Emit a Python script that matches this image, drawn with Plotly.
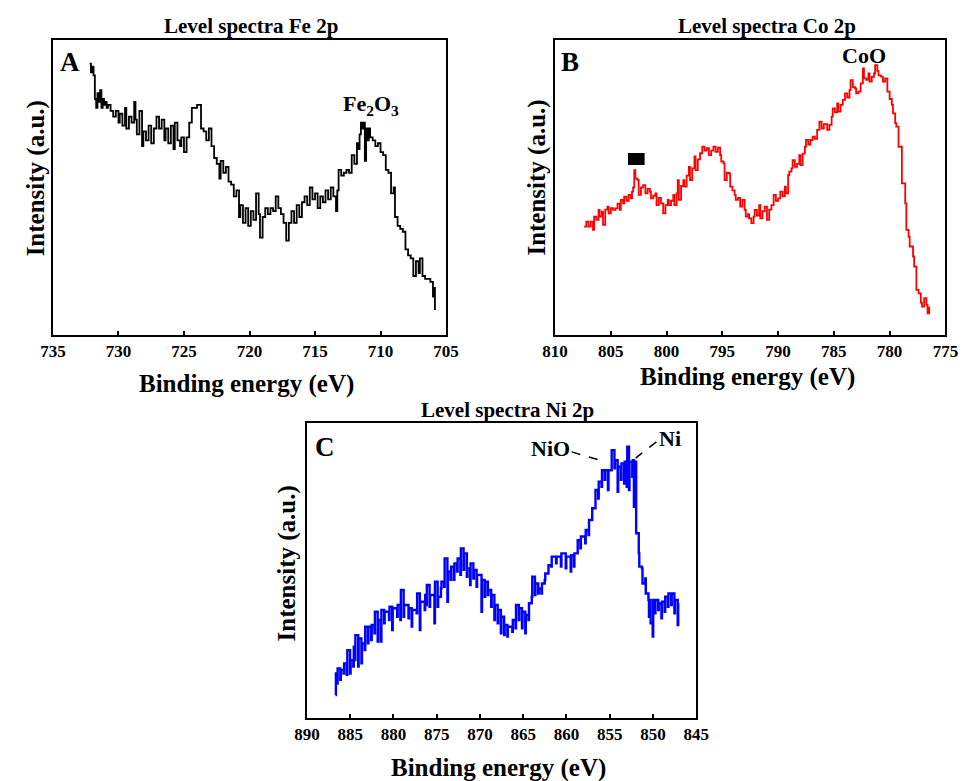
import plotly.graph_objects as go

# ---------------- data ----------------
fe_energy = [732.2, 732.1, 732.0, 731.9, 731.8, 731.7, 731.6, 731.5, 731.4, 731.3, 731.2, 731.1, 731.0, 730.9,
             730.8, 730.6, 730.4, 730.2, 730.0, 729.9, 729.7, 729.5, 729.4, 729.2, 729.0, 728.8, 728.7, 728.6,
             728.4, 728.2, 728.1, 727.9, 727.7, 727.5, 727.3, 727.1, 726.9, 726.7, 726.5, 726.4, 726.2, 726.0,
             725.8, 725.7, 725.5, 725.3, 725.2, 725.0, 724.8, 724.6, 724.4, 724.2, 724.0, 723.8, 723.7, 723.5,
             723.3, 723.1, 722.9, 722.7, 722.5, 722.3, 722.2, 722.0, 721.8, 721.6, 721.4, 721.2, 721.0, 720.8,
             720.7, 720.5, 720.3, 720.1, 719.9, 719.7, 719.5, 719.3, 719.2, 719.0, 718.8, 718.6, 718.4, 718.2,
             718.0, 717.8, 717.6, 717.4, 717.2, 717.0, 716.8, 716.6, 716.4, 716.2, 716.0, 715.8, 715.6, 715.4,
             715.2, 715.0, 714.8, 714.6, 714.4, 714.2, 714.0, 713.8, 713.6, 713.4, 713.3, 713.2, 713.0, 712.8,
             712.6, 712.4, 712.2, 712.0, 711.8, 711.7, 711.6, 711.5, 711.4, 711.3, 711.2, 711.1, 711.0, 710.9,
             710.8, 710.6, 710.4, 710.2, 710.0, 709.8, 709.6, 709.4, 709.2, 709.0, 708.9, 708.7, 708.5, 708.3,
             708.1, 707.9, 707.7, 707.5, 707.3, 707.1, 707.0, 706.8, 706.6, 706.4, 706.2, 706.0, 705.9, 705.85]
fe_intensity = [92, 89, 91, 88, 80, 77, 82, 79, 83, 77, 80, 78, 79, 77,
                78, 76, 74, 76, 72, 75, 71, 77, 70, 74, 72, 79, 73, 68,
                76, 64, 69, 66, 71, 65, 70, 74, 70, 73, 66, 70, 65, 71,
                63, 72, 66, 64, 67, 62, 67, 72, 77, 77, 78, 78, 70, 69,
                66, 70, 64, 60, 58, 53, 59, 55, 57, 52, 51, 47, 49, 40,
                44, 38, 43, 37, 42, 39, 48, 41, 33, 40, 43, 41, 43, 42,
                47, 43, 41, 38, 32, 38, 42, 38, 44, 40, 45, 47, 44, 50,
                46, 48, 43, 47, 45, 49, 46, 50, 47, 42, 49, 56, 54, 55,
                56, 55, 61, 58, 65, 63, 68, 72, 70, 72, 59, 70, 66, 70,
                67, 66, 64, 65, 62, 61, 56, 55, 48, 50, 40, 37, 36, 35,
                29, 27, 26, 20, 25, 21, 26, 20, 19, 19, 18, 13, 16, 8.5]

co_energy = [807.4, 807.2, 807.0, 806.8, 806.6, 806.5, 806.3, 806.1, 806.0, 805.8, 805.7, 805.5, 805.3, 805.2,
             805.0, 804.8, 804.6, 804.4, 804.2, 804.1, 803.9, 803.8, 803.6, 803.4, 803.2, 803.1, 803.0, 802.9,
             802.8, 802.6, 802.5, 802.3, 802.1, 801.9, 801.7, 801.5, 801.4, 801.2, 801.0, 800.9, 800.7, 800.5,
             800.3, 800.1, 799.9, 799.8, 799.6, 799.4, 799.3, 799.1, 799.0, 798.9, 798.7, 798.5, 798.4, 798.2,
             798.0, 797.9, 797.7, 797.5, 797.4, 797.2, 797.0, 796.8, 796.6, 796.4, 796.2, 796.0, 795.8, 795.6,
             795.4, 795.2, 795.1, 794.9, 794.8, 794.6, 794.4, 794.3, 794.1, 793.9, 793.8, 793.6, 793.4, 793.2,
             793.0, 792.9, 792.7, 792.6, 792.4, 792.2, 792.1, 791.9, 791.7, 791.6, 791.4, 791.2, 791.0, 790.8,
             790.6, 790.4, 790.2, 790.0, 789.8, 789.6, 789.4, 789.3, 789.1, 789.0, 788.8, 788.7, 788.5, 788.3,
             788.1, 788.0, 787.8, 787.6, 787.5, 787.3, 787.1, 786.9, 786.7, 786.5, 786.3, 786.1, 785.9, 785.6,
             785.4, 785.2, 785.1, 784.9, 784.7, 784.6, 784.4, 784.2, 784.0, 783.8, 783.6, 783.5, 783.3, 783.1,
             783.0, 782.8, 782.6, 782.4, 782.3, 782.1, 781.9, 781.8, 781.6, 781.4, 781.3, 781.1, 781.0, 780.8,
             780.6, 780.4, 780.2, 780.0, 779.8, 779.7, 779.5, 779.4, 779.2, 778.9, 778.6, 778.5, 778.3, 778.2,
             777.9, 777.8, 777.6, 777.4, 777.2, 777.1, 776.9, 776.7, 776.6, 776.45]
co_intensity = [36.7, 38.4, 36.7, 38.4, 35.6, 40.1, 39.0, 42.4, 40.1, 41.8, 37.3, 42.5, 43.5, 41.2,
                43.0, 42.4, 42.9, 44.5, 42.4, 45.8, 44.6, 46.9, 45.5, 47.5, 46.3, 48.6, 50.0, 55.9,
                53.0, 52.5, 47.5, 50.0, 50.8, 48.0, 49.5, 48.6, 46.3, 47.2, 48.0, 44.0, 46.5, 44.6,
                41.2, 44.0, 45.8, 44.0, 45.5, 47.5, 44.0, 48.0, 52.5, 45.8, 50.5, 52.5, 50.3, 54.0,
                57.0, 52.5, 56.5, 60.5, 55.9, 59.5, 61.6, 63.8, 62.5, 63.3, 61.0, 62.5, 63.8, 62.1,
                63.5, 61.0, 58.8, 58.2, 52.5, 55.0, 54.8, 50.3, 49.0, 47.5, 45.8, 46.5, 43.5, 45.8,
                42.4, 40.1, 41.0, 39.5, 37.9, 40.1, 42.4, 40.5, 44.0, 39.5, 42.0, 43.5, 39.0, 42.5,
                44.0, 47.5, 45.5, 46.3, 48.6, 47.0, 50.3, 48.0, 54.2, 55.4, 56.5, 59.3, 57.0, 58.0,
                61.0, 57.6, 61.5, 63.8, 66.1, 64.5, 66.1, 67.2, 66.5, 69.5, 72.3, 70.0, 71.5, 69.5,
                71.2, 74.0, 76.8, 75.5, 78.5, 75.7, 78.0, 79.7, 81.9, 80.5, 83.0, 86.4, 84.0, 83.6,
                81.9, 82.5, 85.3, 90.4, 87.0, 86.5, 88.7, 85.9, 87.5, 88.7, 91.5, 89.5, 88.0, 87.6,
                85.9, 87.0, 82.5, 80.0, 78.0, 75.1, 71.8, 70.6, 63.8, 51.4, 44.6, 35.6, 33.3, 30.0,
                26.6, 23.2, 15.3, 14.1, 11.0, 9.6, 12.5, 10.2, 7.3, 9.6]

ni_energy = [886.70, 886.65, 886.51, 886.45, 886.14, 886.08, 885.76, 885.70, 885.39, 885.33, 885.01, 884.95,
             884.64, 884.58, 884.45, 884.40, 884.07, 884.02, 883.70, 883.64, 883.32, 883.26, 882.95, 882.89,
             882.57, 882.51, 882.20, 882.14, 881.82, 881.76, 881.45, 881.39, 881.07, 881.01, 880.51, 880.45,
             880.14, 880.08, 879.57, 879.51, 879.20, 879.14, 878.82, 878.76, 878.26, 878.20, 877.89, 877.83,
             877.32, 877.26, 876.95, 876.89, 876.39, 876.33, 876.20, 876.14, 875.82, 875.76, 875.26, 875.20,
             874.89, 874.83, 874.51, 874.45, 874.14, 874.08, 873.76, 873.70, 873.39, 873.33, 873.01, 872.95,
             872.64, 872.58, 872.26, 872.20, 871.89, 871.83, 871.51, 871.45, 871.14, 871.08, 870.76, 870.70,
             870.39, 870.33, 869.82, 869.76, 869.45, 869.39, 869.08, 869.02, 868.70, 868.64, 868.33, 868.27,
             867.95, 867.89, 867.58, 867.52, 867.20, 867.14, 866.83, 866.77, 866.26, 866.20, 865.89, 865.83,
             865.51, 865.45, 865.14, 865.08, 864.76, 864.70, 864.39, 864.33, 864.01, 863.95, 863.64, 863.58,
             863.26, 863.20, 862.89, 862.83, 862.51, 862.45, 862.14, 862.08, 861.76, 861.70, 861.20, 861.14,
             860.64, 860.58, 860.08, 860.02, 859.51, 859.45, 859.14, 859.08, 858.76, 858.70, 858.39, 858.33,
             857.83, 857.77, 857.45, 857.39, 857.08, 857.02, 856.70, 856.64, 856.33, 856.27, 855.95, 855.89,
             855.58, 855.52, 855.20, 855.14, 854.83, 854.77, 854.45, 854.39, 854.08, 854.02, 853.70, 853.64,
             853.33, 853.27, 853.03, 852.97, 852.77, 852.71, 852.39, 852.33, 852.20, 852.14, 851.94, 851.64,
             851.58, 851.27, 851.21, 850.89, 850.83, 850.52, 850.46, 850.33, 850.27, 850.03, 849.97, 849.77,
             849.71, 849.39, 849.33, 849.02, 848.96, 848.64, 848.58, 848.27, 848.21, 847.89, 847.83, 847.52,
             847.46, 847.14, 847.08]
ni_intensity = [7.8, 15.1, 11.7, 16.8, 12.9, 16.3, 15.1, 18.5, 14.6, 23.0, 15.1, 19.6,
                17.4, 24.2, 19.6, 28.1, 17.4, 27.0, 18.5, 25.3, 23.0, 30.9, 25.3, 30.9,
                26.4, 31.5, 28.7, 36.0, 25.9, 33.2, 25.9, 36.6, 32.1, 36.0, 33.2, 37.7,
                29.8, 37.2, 34.3, 38.3, 33.2, 43.4, 34.3, 38.3, 33.8, 37.2, 31.0, 36.6,
                35.5, 42.2, 29.8, 39.4, 36.6, 41.7, 38.3, 45.1, 37.7, 41.7, 32.1, 46.2,
                37.7, 41.1, 43.9, 46.2, 44.5, 54.1, 39.4, 49.6, 46.8, 51.3, 46.8, 52.4,
                49.6, 54.1, 48.5, 57.5, 50.2, 55.8, 47.9, 50.7, 45.1, 52.4, 47.3, 50.2,
                44.5, 48.5, 36.0, 46.8, 41.1, 46.2, 41.7, 43.4, 37.7, 41.7, 33.2, 38.3,
                32.1, 36.6, 28.7, 34.3, 28.1, 31.5, 27.6, 30.9, 29.2, 33.2, 30.4, 38.3,
                33.2, 37.2, 30.4, 36.0, 28.7, 34.9, 33.2, 38.9, 41.1, 47.9, 41.7, 45.6,
                42.2, 43.9, 42.2, 45.6, 46.8, 49.0, 49.0, 51.8, 51.3, 54.7, 52.4, 54.7,
                51.3, 55.8, 50.7, 54.7, 49.6, 55.2, 51.3, 55.8, 55.8, 60.3, 57.5, 61.5,
                59.2, 63.7, 62.0, 67.1, 67.1, 71.1, 71.1, 77.3, 74.4, 80.1, 78.4, 84.0,
                80.7, 84.0, 77.3, 84.0, 84.0, 90.8, 84.6, 87.4, 76.7, 85.2, 80.7, 86.3,
                79.5, 86.9, 78.4, 92.0, 77.3, 86.9, 81.8, 87.4, 71.6, 86.9, 62.6, 55.8,
                51.3, 50.7, 45.6, 47.3, 42.2, 40.0, 34.3, 40.0, 32.1, 27.6, 40.0, 35.5,
                40.0, 36.6, 38.9, 33.8, 39.4, 36.0, 41.1, 37.7, 42.2, 38.3, 42.2, 35.5,
                40.0, 31.5, 38.9]

fe_ticks = [735, 730, 725, 720, 715, 710, 705]
co_ticks = [810, 805, 800, 795, 790, 785, 780, 775]
ni_ticks = [890, 885, 880, 875, 870, 865, 860, 855, 850, 845]

panel_titles = ["Level spectra Fe 2p", "Level spectra Co 2p", "Level spectra Ni 2p"]
x_title = "Binding energy (eV)"
y_title = "Intensity (a.u.)"

# ---------------- figure ----------------
SERIF = "Liberation Serif"
fig = go.Figure()

fig.add_trace(go.Scatter(x=fe_energy, y=fe_intensity, mode="lines", line_shape="hv",
                         line=dict(color="black", width=1.8), xaxis="x", yaxis="y", showlegend=False))
fig.add_trace(go.Scatter(x=co_energy, y=co_intensity, mode="lines", line_shape="hv",
                         line=dict(color="#ff0000", width=1.8), xaxis="x2", yaxis="y2", showlegend=False))
fig.add_trace(go.Scatter(x=ni_energy, y=ni_intensity, mode="lines", line_shape="hv",
                         line=dict(color="#0000ff", width=2.4), xaxis="x3", yaxis="y3", showlegend=False))

def xax(dom, rng, ticks, anchor):
    return dict(domain=dom, range=rng, anchor=anchor, tickmode="array", tickvals=ticks,
                ticktext=[str(t) for t in ticks], ticks="inside", ticklen=4, tickwidth=2,
                tickcolor="black", showline=True, linecolor="black", linewidth=2, mirror=True,
                showgrid=False, zeroline=False,
                tickfont=dict(family=SERIF, size=17, color="black", weight="bold"))

def yax(dom, anchor):
    return dict(domain=dom, range=[0, 100], anchor=anchor, showticklabels=False, ticks="",
                showline=True, linecolor="black", linewidth=2, mirror=True,
                showgrid=False, zeroline=False)

fig.update_layout(
    width=972, height=781, autosize=False,
    margin=dict(l=0, r=0, t=0, b=0),
    paper_bgcolor="white", plot_bgcolor="white",
    xaxis=xax([0.0422, 0.4578], [735, 705], fe_ticks, "y"),
    yaxis=yax([0.5711, 0.9488], "x"),
    xaxis2=xax([0.5730, 0.9856], [810, 775], co_ticks, "y2"),
    yaxis2=yax([0.5711, 0.9488], "x2"),
    xaxis3=xax([0.3107, 0.7222], [890, 845], ni_ticks, "y3"),
    yaxis3=yax([0.0807, 0.4584], "x3"),
)

ann = []
def txt(x, y, s, size, xref="paper", yref="paper", angle=0):
    ann.append(dict(x=x, y=y, xref=xref, yref=yref, text=s, showarrow=False, textangle=angle,
                    xanchor="center", yanchor="middle",
                    font=dict(family=SERIF, size=size, color="black", weight="bold")))

# panel titles
txt(0.2521, 0.9667, panel_titles[0], 21)
txt(0.7973, 0.9667, panel_titles[1], 21)
txt(0.5226, 0.4750, panel_titles[2], 21)
# x titles
txt(0.2469, 0.5083, x_title, 25)
txt(0.7767, 0.5173, x_title, 25)
txt(0.5134, 0.0170, x_title, 25)
# y titles
txt(0.0247, 0.7721, y_title, 25, angle=-90)
txt(0.5535, 0.7721, y_title, 25, angle=-90)
txt(0.2901, 0.2791, y_title, 25, angle=-90)
# panel letters
txt(0.0602, 0.9206, "A", 27)
txt(0.5890, 0.9206, "B", 27)
txt(0.3302, 0.4277, "C", 27)
# peak labels
txt(710.7, 78, "Fe<sub>2</sub>O<sub>3</sub>", 22, "x", "y")
txt(782.3, 94.6, "CoO", 22, "x2", "y2")
txt(861.9, 91.5, "NiO", 22, "x3", "y3")
txt(848.0, 94.9, "Ni", 22, "x3", "y3")
fig.update_layout(annotations=ann)

# leader lines in panel C (dashed, as in the reference)
fig.add_shape(type="line", xref="x3", yref="y3", x0=859.4, y0=90.2, x1=855.4, y1=86.8,
              line=dict(color="black", width=1.5, dash="dash"))
fig.add_shape(type="line", xref="x3", yref="y3", x0=849.6, y0=93.6, x1=852.0, y1=88.1,
              line=dict(color="black", width=1.5, dash="dash"))

# black marker label in panel B
fig.add_shape(type="rect", xref="x2", yref="y2", x0=803.46, x1=801.97, y0=57.6, y1=61.7,
              fillcolor="black", line=dict(color="black", width=0))

fig.write_html("out.html",
               post_script="document.body.style.margin='0';document.body.style.overflow='hidden';")
